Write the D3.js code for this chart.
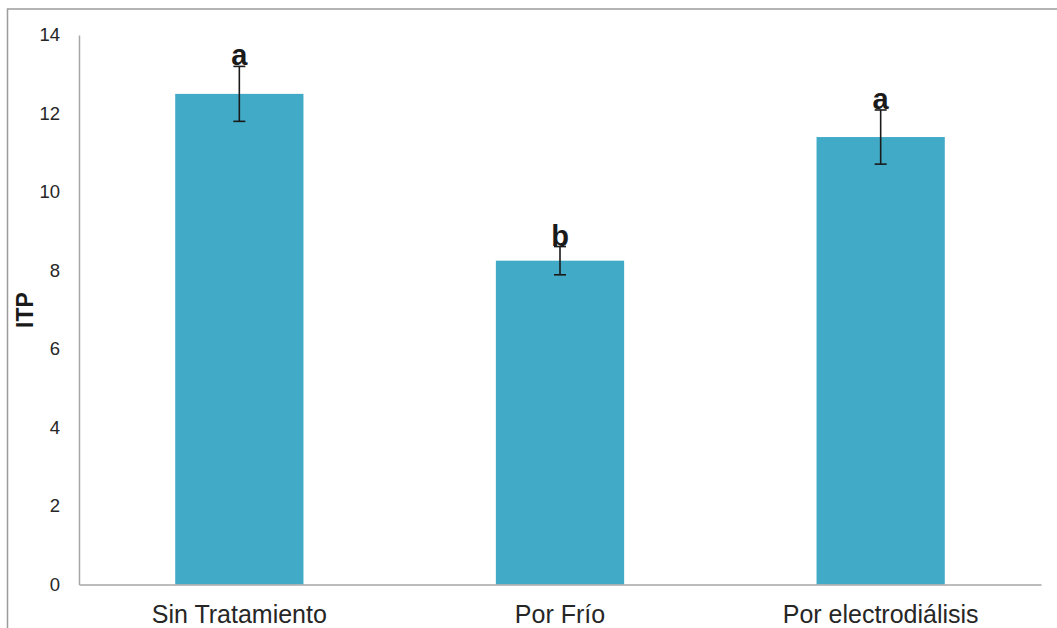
<!DOCTYPE html>
<html>
<head>
<meta charset="utf-8">
<script src="https://cdn.jsdelivr.net/npm/d3@7"></script>
<style>
  html, body { margin: 0; padding: 0; background: #fff; }
  svg { display: block; font-family: "Liberation Sans", Arial, sans-serif; }
</style>
</head>
<body>
<svg id="chart" width="1057" height="628"></svg>
<script>
// ITP by treatment, with standard error and significance letters
const categories = ["Sin Tratamiento", "Por Frío", "Por electrodiálisis"];
const values = [12.5, 8.25, 11.4];
const errors = [0.7, 0.36, 0.69];
const letters = ["a", "b", "a"];
const yTicks = [0, 2, 4, 6, 8, 10, 12, 14];

const svg = d3.select("#chart");
const margin = { left: 79, right: 1041, top: 35, bottom: 584.5 };

// outer frame (top and left edges)
svg.append("path")
  .attr("d", "M7.5,628 V9 H1057")
  .attr("fill", "none")
  .attr("stroke", "#9c9c9c")
  .attr("stroke-width", 1.5);

const x = d3.scaleBand().domain(categories).range([margin.left, margin.right]).padding(0);
const y = d3.scaleLinear().domain([0, 14]).range([margin.bottom, margin.top]);
const barW = x.bandwidth() * 0.4;

// bars
svg.selectAll("rect.bar")
  .data(categories)
  .join("rect")
  .attr("class", "bar")
  .attr("x", (d) => x(d) + x.bandwidth() / 2 - barW / 2)
  .attr("width", barW)
  .attr("y", (d, i) => y(values[i]))
  .attr("height", (d, i) => y(0) - y(values[i]))
  .attr("fill", "#41abc7");

// y axis
const yAxis = d3.axisLeft(y).tickValues(yTicks).tickSize(0).tickPadding(19);
const gy = svg.append("g").attr("transform", `translate(${margin.left},0)`).call(yAxis);
gy.select(".domain").attr("stroke", "#a6a6a6").attr("stroke-width", 1.5);
gy.selectAll("text").attr("font-size", 18.5).attr("fill", "#262626")
  .attr("font-family", "Liberation Sans, Arial, sans-serif");

// x axis
const xAxis = d3.axisBottom(x).tickSize(0).tickPadding(20.5);
const gx = svg.append("g").attr("transform", `translate(0,${margin.bottom})`).call(xAxis);
gx.select(".domain").attr("stroke", "#a6a6a6").attr("stroke-width", 1.5);
gx.selectAll("text").attr("font-size", 25).attr("fill", "#262626")
  .attr("font-family", "Liberation Sans, Arial, sans-serif");

// error bars
const eb = svg.append("g").attr("stroke", "#1a1a1a").attr("stroke-width", 1.6);
categories.forEach((c, i) => {
  const cx = x(c) + x.bandwidth() / 2;
  const hi = y(values[i] + errors[i]);
  const lo = y(values[i] - errors[i]);
  eb.append("line").attr("x1", cx).attr("x2", cx).attr("y1", hi).attr("y2", lo);
  eb.append("line").attr("x1", cx - 6).attr("x2", cx + 6).attr("y1", hi).attr("y2", hi);
  eb.append("line").attr("x1", cx - 6).attr("x2", cx + 6).attr("y1", lo).attr("y2", lo);
});

// significance letters
svg.selectAll("text.sig")
  .data(categories)
  .join("text")
  .attr("class", "sig")
  .attr("x", (d) => x(d) + x.bandwidth() / 2)
  .attr("y", (d, i) => y(values[i] + errors[i]) - 1)
  .attr("text-anchor", "middle")
  .attr("font-size", 29)
  .attr("font-weight", "bold")
  .attr("fill", "#1a1a1a")
  .text((d, i) => letters[i]);

// y axis title
svg.append("text")
  .attr("transform", "translate(33,310) rotate(-90)")
  .attr("text-anchor", "middle")
  .attr("font-size", 23)
  .attr("font-weight", "bold")
  .attr("fill", "#1a1a1a")
  .text("ITP");
</script>
</body>
</html>
